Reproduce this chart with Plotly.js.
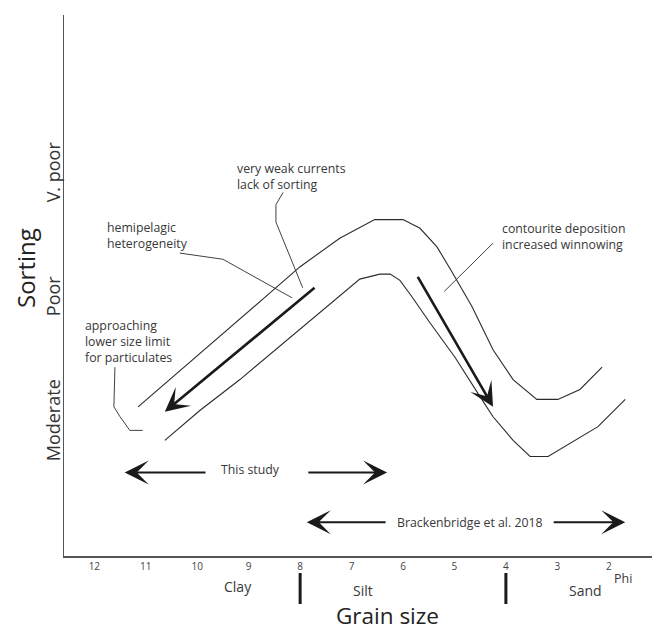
<!DOCTYPE html>
<html>
<head>
<meta charset="utf-8">
<script src="https://cdn.plot.ly/plotly-3.0.1.min.js"></script>
<style>
  html, body { margin: 0; padding: 0; background: #ffffff; }
  #chart { width: 652px; height: 630px; }
</style>
</head>
<body>
<div id="chart"></div>
<script>
// ---- data (phi grain size on x, sorting level on y: 1 = Moderate, 2 = Poor, 3 = V. poor) ----
const phiTicks = [12, 11, 10, 9, 8, 7, 6, 5, 4, 3, 2];
const sortingTickVals = [1, 2, 3];
const sortingTickText = ['Moderate', 'Poor', 'V. poor'];

const upperPhi  = [11.15, 10.53, 9.95, 9.31, 8.72, 8.00, 7.23, 6.55, 6.00, 5.67, 5.34, 5.05, 4.66, 4.25, 3.86, 3.40, 2.99, 2.56, 2.13];
const upperSort = [1.13, 1.35, 1.56, 1.79, 2.00, 2.26, 2.49, 2.64, 2.64, 2.57, 2.42, 2.22, 1.94, 1.59, 1.35, 1.19, 1.19, 1.27, 1.45];

const lowerPhi  = [10.63, 9.95, 9.17, 8.39, 7.61, 6.84, 6.45, 6.25, 6.06, 5.83, 5.48, 4.99, 4.50, 4.25, 3.86, 3.53, 3.18, 2.70, 2.21, 1.68];
const lowerSort = [0.86, 1.10, 1.35, 1.62, 1.89, 2.16, 2.20, 2.20, 2.15, 2.02, 1.81, 1.53, 1.21, 1.05, 0.86, 0.73, 0.73, 0.85, 0.97, 1.19];

// trend arrows: [tailPhi, tailSort, tipPhi, tipSort]
const fineningArrow   = [7.69, 2.10, 10.63, 1.09];
const winnowingArrow  = [5.73, 2.19, 4.25, 1.13];

// study range arrows
const thisStudyLeft   = [9.81, 0.60, 11.41, 0.60];
const thisStudyRight  = [7.87, 0.60, 6.31, 0.60];
const thisStudyLabel  = [8.97, 0.60];
const brackLeft       = [6.31, 0.20, 7.87, 0.20];
const brackRight      = [3.10, 0.20, 1.68, 0.20];
const brackLabel      = [4.70, 0.20];

// leader lines for the notes
const leaderCurrentsPhi  = [8.33, 8.47, 8.47, 7.95];
const leaderCurrentsSort = [2.86, 2.76, 2.62, 2.09];
const leaderHemiPhi      = [10.34, 9.50, 8.16];
const leaderHemiSort     = [2.37, 2.32, 2.01];
const leaderContPhi      = [4.25, 5.20];
const leaderContSort     = [2.45, 2.06];
const leaderLimitPhi     = [11.60, 11.62, 11.50, 11.31, 11.06];
const leaderLimitSort    = [1.45, 1.13, 1.05, 0.94, 0.94];

// notes: [phi, sort, text]
const notes = [
  [9.27, 2.99, 'very weak currents<br>lack of sorting'],
  [11.80, 2.51, 'hemipelagic<br>heterogeneity'],
  [4.11, 2.50, 'contourite deposition<br>increased winnowing'],
  [12.22, 1.66, 'approaching<br>lower size limit<br>for particulates']
];

// grain-size classes below the axis
const classNames = ['Clay', 'Silt', 'Sand'];
const classPhi   = [9.21, 6.78, 2.46];
const classBounds = [8, 4];

// ---- drawing ----
const ink = '#2b2b2b';
const textInk = '#383838';
const fontFam = 'Open Sans, Noto Sans, sans-serif';
const noteSize = 12.3;

const thin = {color: ink, width: 1.1};
const lead = {color: ink, width: 0.9};
const traces = [
  {x: upperPhi, y: upperSort, mode: 'lines', line: thin, hoverinfo: 'skip'},
  {x: lowerPhi, y: lowerSort, mode: 'lines', line: thin, hoverinfo: 'skip'},
  {x: leaderCurrentsPhi, y: leaderCurrentsSort, mode: 'lines', line: lead, hoverinfo: 'skip'},
  {x: leaderHemiPhi, y: leaderHemiSort, mode: 'lines', line: lead, hoverinfo: 'skip'},
  {x: leaderContPhi, y: leaderContSort, mode: 'lines', line: lead, hoverinfo: 'skip'},
  {x: leaderLimitPhi, y: leaderLimitSort, mode: 'lines', line: lead, hoverinfo: 'skip'}
];

function arrow(a, w, s) {
  return {
    x: a[2], y: a[3], ax: a[0], ay: a[1],
    xref: 'x', yref: 'y', axref: 'x', ayref: 'y',
    text: '', showarrow: true, arrowhead: 3, arrowsize: s, arrowwidth: w,
    arrowcolor: '#1a1a1a', standoff: 0
  };
}

const annotations = [
  arrow(fineningArrow, 2.6, 1.55),
  arrow(winnowingArrow, 2.6, 1.55),
  arrow(thisStudyLeft, 2, 2.0),
  arrow(thisStudyRight, 2, 2.0),
  arrow(brackLeft, 2, 2.0),
  arrow(brackRight, 2, 2.0),
  {x: thisStudyLabel[0], y: thisStudyLabel[1], xref: 'x', yref: 'y', text: 'This study',
   showarrow: false, xanchor: 'center', yanchor: 'middle',
   font: {family: fontFam, size: noteSize, color: textInk}, yshift: 3},
  {x: brackLabel[0], y: brackLabel[1], xref: 'x', yref: 'y', text: 'Brackenbridge et al. 2018',
   showarrow: false, xanchor: 'center', yanchor: 'middle',
   font: {family: fontFam, size: noteSize, color: textInk}}
];

notes.forEach(n => annotations.push({
  x: n[0], y: n[1], xref: 'x', yref: 'y', text: n[2], showarrow: false,
  xanchor: 'left', yanchor: 'middle', align: 'left',
  font: {family: fontFam, size: noteSize, color: textInk}
}));

classNames.forEach((c, i) => annotations.push({
  x: classPhi[i], y: i === 0 ? -0.057 : -0.0635, xref: 'x', yref: 'paper', text: c,
  showarrow: false, xanchor: 'center', yanchor: 'middle',
  font: {family: fontFam, size: 14, color: textInk}
}));

annotations.push({
  x: 1.72, y: -0.0425, xref: 'x', yref: 'paper', text: 'Phi', showarrow: false,
  xanchor: 'center', yanchor: 'middle', font: {family: fontFam, size: 12.5, color: textInk}
});

// axis titles (given in page pixels, converted to paper coordinates below)
const L = 64, T = 15, B = 74, W = 652 - L, H = 630 - T - B;
function px2paper(px, py) { return [(px - L) / W, 1 - (py - T) / H]; }

const gs = px2paper(387, 615);
annotations.push({
  x: gs[0], y: gs[1], xref: 'paper', yref: 'paper', text: 'Grain size', showarrow: false,
  xanchor: 'center', yanchor: 'middle',
  font: {family: fontFam, size: 22.5, color: '#222'}
});
const so = px2paper(25, 268);
annotations.push({
  x: so[0], y: so[1], xref: 'paper', yref: 'paper', text: 'Sorting', textangle: -90, showarrow: false,
  xanchor: 'center', yanchor: 'middle',
  font: {family: fontFam, size: 24, color: '#222'}
});

const shapes = classBounds.map(b => ({
  type: 'line', xref: 'x', yref: 'paper', x0: b, x1: b, y0: -0.0314, y1: -0.0887,
  line: {color: '#1a1a1a', width: 3}
}));

const layout = {
  width: 652, height: 630,
  margin: {l: L, r: 0, t: T, b: B},
  paper_bgcolor: '#ffffff', plot_bgcolor: '#ffffff',
  showlegend: false,
  font: {family: fontFam, color: textInk},
  xaxis: {
    range: [12.59, 1.16], tickvals: phiTicks, ticktext: phiTicks.map(String),
    showgrid: false, zeroline: false, showline: true, linecolor: '#555', linewidth: 1.5,
    ticks: '', tickfont: {family: fontFam, size: 10, color: '#444'}, fixedrange: true
  },
  yaxis: {
    range: [-0.073, 4.29], tickvals: sortingTickVals, ticktext: sortingTickText, tickangle: -90,
    ticklabelstandoff: -5,
    showgrid: false, zeroline: false, showline: true, linecolor: '#555', linewidth: 1.5,
    ticks: '', tickfont: {family: fontFam, size: 18, color: '#333'}, fixedrange: true
  },
  annotations: annotations,
  shapes: shapes
};

Plotly.newPlot('chart', traces, layout, {displayModeBar: false, staticPlot: true});
</script>
</body>
</html>
